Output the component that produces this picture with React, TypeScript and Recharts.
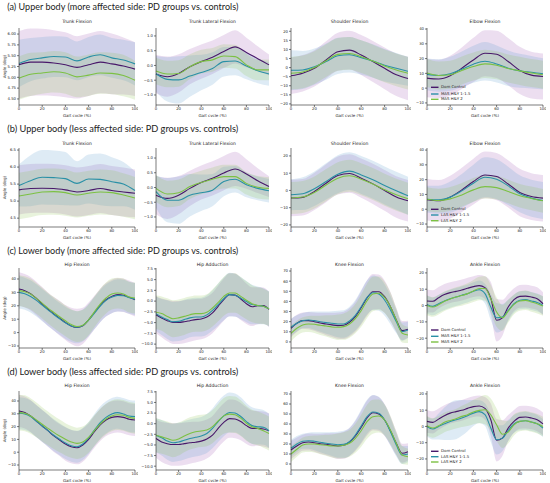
import React from 'react';
import { Area, ComposedChart, Line, XAxis, YAxis } from 'recharts';

// gait cycle samples
const X10 = [0, 10, 20, 30, 40, 50, 60, 70, 80, 90, 100];
const X5 = [0, 5, 10, 15, 20, 25, 30, 35, 40, 45, 50, 55, 60, 65, 70, 75, 80, 85, 90, 95, 100];
const X_TICKS = [0, 20, 40, 60, 80, 100];

const SERIES_KEYS = ['dom', 'hy1', 'hy2'];
const LINE_COLORS = ['#48186a', '#2a90a6', '#7cc143'];
const BAND_COLORS = ['#a05cb4', '#5a9dcb', '#8cc152'];
const LEGEND_MORE = ['Dom Control', 'MAS H&Y 1-1.5', 'MAS H&Y 2'];
const LEGEND_LESS = ['Dom Control', 'LAS H&Y 1-1.5', 'LAS H&Y 2'];
const SECTION_TITLES = [
  '(a) Upper body (more affected side: PD groups vs. controls)',
  '(b) Upper body (less affected side: PD groups vs. controls)',
  '(c) Lower body (more affected side: PD groups vs. controls)',
  '(d) Lower body (less affected side: PD groups vs. controls)'
];

// tick labels
const TICKS_TRUNK_A = [4.5, 4.75, 5, 5.25, 5.5, 5.75, 6];
const TICKS_TRUNK_B = [4.5, 5, 5.5, 6, 6.5];
const TICKS_LAT = [-1, -0.5, 0, 0.5, 1];
const TICKS_SHOULDER_A = [-20, -15, -10, -5, 0, 5, 10, 15, 20];
const TICKS_SHOULDER_B = [-20, -10, 0, 10, 20];
const TICKS_ELBOW = [-10, 0, 10, 20, 30, 40];
const TICKS_HIP = [-10, 0, 10, 20, 30, 40];
const TICKS_ADD = [-10, -7.5, -5, -2.5, 0, 2.5, 5, 7.5];
const TICKS_KNEE = [0, 10, 20, 30, 40, 50, 60, 70];
const TICKS_ANKLE = [-20, -10, 0, 10, 20];

// (a) upper body, more affected side
const A1_DOM = [5.29, 5.35, 5.35, 5.33, 5.29, 5.23, 5.29, 5.35, 5.31, 5.26, 5.19];
const A1_HY1 = [5.32, 5.41, 5.45, 5.48, 5.47, 5.38, 5.47, 5.52, 5.45, 5.4, 5.31];
const A1_HY2 = [4.98, 5.07, 5.1, 5.13, 5.1, 5.01, 5.05, 5.1, 5.09, 5.04, 4.93];
const A1_DOM_SD = [0.78, 0.78, 0.77, 0.76, 0.75, 0.72, 0.72, 0.72, 0.7, 0.66, 0.62];
const A1_HY1_SD = [0.55, 0.5, 0.48, 0.47, 0.47, 0.45, 0.46, 0.47, 0.46, 0.47, 0.5];
const A1_HY2_SD = [0.5, 0.5, 0.48, 0.48, 0.48, 0.47, 0.48, 0.48, 0.48, 0.48, 0.45];

const A2_DOM = [-0.29, -0.38, -0.27, -0.04, 0.13, 0.28, 0.47, 0.63, 0.44, 0.23, 0.02];
const A2_HY1 = [-0.28, -0.47, -0.49, -0.36, -0.24, -0.1, 0.13, 0.15, -0.02, -0.18, -0.29];
const A2_HY2 = [-0.19, -0.29, -0.27, -0.04, 0.13, 0.19, 0.32, 0.3, 0.02, -0.15, -0.15];
const A2_DOM_SD = [0.65, 0.68, 0.65, 0.6, 0.58, 0.57, 0.56, 0.56, 0.5, 0.42, 0.35];
const A2_HY1_SD = [0.6, 0.75, 0.8, 0.7, 0.6, 0.55, 0.5, 0.48, 0.45, 0.42, 0.4];
const A2_HY2_SD = [0.45, 0.45, 0.45, 0.42, 0.4, 0.4, 0.4, 0.4, 0.38, 0.35, 0.35];

const A3_DOM = [-4.5, -3.1, -0.4, 4.2, 8.7, 9.6, 6.9, 3.3, -0.4, -4.0, -6.0];
const A3_HY1 = [-1.5, -1.3, 0.5, 3.3, 6.5, 7.1, 5.5, 3.6, 1.3, -0.4, -2.0];
const A3_HY2 = [-3.1, -2.4, 0, 3.8, 7.3, 7.8, 6.0, 3.6, 0.9, -1.3, -3.1];
const A3_DOM_SD = [10, 10, 10, 10.3, 10.5, 10.7, 11, 11.3, 11.5, 11.7, 12];
const A3_HY1_SD = [11, 10.5, 10, 10, 10, 9.8, 9.5, 9.2, 9, 8.5, 8];
const A3_HY2_SD = [9, 9, 9, 9, 9, 9, 9, 9, 9, 9, 9];

const A4_DOM = [6.8, 6.2, 8.4, 13.5, 19.1, 23.6, 22.9, 18.0, 12.0, 8.8, 7.9];
const A4_HY1 = [9.3, 8.6, 9.7, 12.8, 16.2, 18.2, 16.4, 13.5, 11.7, 10.8, 9.7];
const A4_HY2 = [10.2, 8.6, 9.1, 12.0, 14.6, 16.4, 15.5, 13.3, 11.7, 10.2, 9.1];
const A4_DOM_SD = [13, 13, 13.5, 14, 15, 15.6, 16, 16, 16, 15.8, 15.6];
const A4_HY1_SD = [10.8, 11, 11.5, 12, 12.5, 13, 12.5, 12, 11.5, 11, 10.5];
const A4_HY2_SD = [9.5, 9.5, 9.5, 9.5, 9.5, 9.5, 9.5, 9.5, 9.5, 9.5, 9.5];

// (b) upper body, less affected side
const B1_DOM = [5.33, 5.37, 5.38, 5.37, 5.33, 5.27, 5.31, 5.37, 5.31, 5.27, 5.23];
const B1_HY1 = [5.46, 5.6, 5.7, 5.69, 5.66, 5.52, 5.65, 5.64, 5.57, 5.5, 5.31];
const B1_HY2 = [5.15, 5.21, 5.27, 5.28, 5.25, 5.18, 5.23, 5.27, 5.25, 5.18, 5.09];
const B1_DOM_SD = [0.72, 0.72, 0.72, 0.72, 0.72, 0.72, 0.72, 0.72, 0.72, 0.72, 0.7];
const B1_HY1_SD = [0.62, 0.75, 0.8, 0.8, 0.78, 0.65, 0.72, 0.76, 0.72, 0.65, 0.56];
const B1_HY2_SD = [0.68, 0.68, 0.68, 0.68, 0.68, 0.66, 0.66, 0.66, 0.66, 0.64, 0.62];

const B2_DOM = [-0.26, -0.37, -0.26, -0.03, 0.17, 0.31, 0.49, 0.63, 0.46, 0.23, 0.03];
const B2_HY1 = [-0.14, -0.43, -0.43, -0.26, -0.18, -0.09, 0.2, 0.28, 0.09, -0.03, -0.11];
const B2_HY2 = [-0.03, -0.22, -0.18, 0.03, 0.17, 0.28, 0.37, 0.37, 0.14, 0.01, -0.03];
const B2_DOM_SD = [0.65, 0.7, 0.65, 0.6, 0.58, 0.58, 0.58, 0.58, 0.5, 0.42, 0.35];
const B2_HY1_SD = [0.55, 0.75, 0.8, 0.72, 0.62, 0.55, 0.5, 0.45, 0.42, 0.4, 0.4];
const B2_HY2_SD = [0.45, 0.45, 0.45, 0.42, 0.4, 0.4, 0.4, 0.4, 0.38, 0.38, 0.38];

const B3_DOM = [-4.4, -4.0, -0.6, 4.2, 8.7, 9.8, 7.1, 3.8, 0, -3.8, -6.0];
const B3_HY1 = [-2.5, -1.9, 1.0, 5.2, 9.4, 11.2, 9.0, 6.2, 2.9, -0.2, -3.1];
const B3_HY2 = [-4.4, -3.8, -1.2, 3.1, 7.1, 8.5, 6.5, 3.7, 0.4, -2.5, -4.8];
const B3_DOM_SD = [10.6, 10.6, 10.8, 11, 11, 11.2, 11.4, 11.6, 11.8, 12, 12];
const B3_HY1_SD = [9, 9.5, 10, 10.5, 11, 11, 11, 11, 11, 11, 11];
const B3_HY2_SD = [9.3, 9.3, 9.3, 9.3, 9.3, 9.3, 9.3, 9.3, 9.3, 9.3, 9.3];

const B4_DOM = [6.4, 5.7, 8.2, 13.1, 18.7, 23.2, 22.1, 17.1, 11.3, 8.6, 7.5];
const B4_HY1 = [6.8, 6.4, 8.2, 12.4, 17.6, 21.6, 20.3, 15.8, 10.4, 7.5, 5.9];
const B4_HY2 = [6.8, 5.9, 7.0, 9.7, 13.1, 15.3, 14.6, 12.0, 9.1, 7.3, 5.7];
const B4_DOM_SD = [14, 14, 14.5, 15, 15.5, 15.8, 16, 16, 16, 15.8, 15.7];
const B4_HY1_SD = [9, 9.5, 10.5, 11.5, 12.5, 13.5, 13.5, 13, 12.5, 12.5, 12.5];
const B4_HY2_SD = [8, 8, 8, 8, 8, 8, 8, 8, 8, 8, 8];

// (c) lower body, more affected side
const C1_DOM = [32.5, 31.3, 29, 25.5, 21.5, 17.5, 14, 10.8, 7.5, 5, 3.8, 5, 9.5, 15, 20.3, 24.5, 27, 28.3, 27.8, 26.3, 24.5];
const C1_HY1 = [30, 29, 27, 24, 20.5, 17, 13.5, 10.3, 7.3, 5, 4, 5.3, 9.3, 14.5, 19.8, 24, 26.5, 27.8, 27.5, 26, 25];
const C1_HY2 = [31.3, 30.5, 28.8, 25.5, 22, 18.3, 15, 11.8, 8.8, 6, 4.5, 5.5, 9.5, 15.5, 21.3, 25.8, 28.8, 29.5, 28.8, 26.5, 25.8];
const C1_DOM_SD = [12.5, 12.5, 12.5, 12.5, 12.5, 12.5, 12.5, 13, 13, 13.5, 14, 13.5, 13, 12.5, 12.5, 12.5, 12.5, 12.5, 12.5, 12.5, 12.5];
const C1_HY1_SD = [12, 12, 12, 12, 12, 12, 12, 12, 12, 12, 12, 12, 12, 12, 12, 12, 12, 12, 12, 12, 12];
const C1_HY2_SD = [11.5, 11.5, 11.5, 11.5, 11.5, 11.5, 11.5, 11.5, 11.5, 11.5, 11.5, 11.5, 11.5, 11.5, 11.5, 11.5, 11.5, 11.5, 11.5, 11.5, 11.5];

const C2_DOM = [-3.15, -3.9, -4.55, -4.95, -4.95, -4.8, -4.55, -4.3, -4.15, -3.7, -2.75, -1.2, 0.35, 1.5, 1.4, 0.5, -0.6, -1.3, -1.05, -1.05, -1.9];
const C2_HY1 = [-2.9, -3.7, -4.3, -4.8, -4.7, -4.3, -3.9, -3.7, -3.7, -3.2, -2.15, -0.8, 0.55, 1.5, 1.35, 0.7, -0.1, -0.8, -1.0, -1.2, -1.8];
const C2_HY2 = [-2.6, -2.9, -3.55, -4.1, -3.9, -3.55, -3.15, -2.9, -2.9, -2.6, -1.6, -0.3, 1.1, 1.9, 1.9, 1.1, 0.2, -0.6, -1.0, -1.2, -1.8];
const C2_DOM_SD = [4.3, 4.5, 4.8, 5, 5, 5, 4.9, 4.8, 4.7, 4.7, 4.7, 4.8, 4.9, 5, 5, 4.9, 4.7, 4.5, 4.3, 4.2, 4.1];
const C2_HY1_SD = [4, 4.2, 4.5, 4.6, 4.6, 4.6, 4.5, 4.5, 4.5, 4.6, 4.7, 4.9, 5, 5.1, 5, 4.9, 4.8, 4.6, 4.4, 4.2, 4.1];
const C2_HY2_SD = [3.9, 4, 4.2, 4.3, 4.3, 4.3, 4.2, 4.2, 4.2, 4.2, 4.3, 4.4, 4.5, 4.6, 4.6, 4.5, 4.4, 4.3, 4.2, 4.1, 4];

const C3_DOM = [13.5, 18.4, 21, 21, 20, 18.7, 17.7, 16.8, 16.1, 16.4, 19.4, 25, 33.8, 43.4, 49.6, 49.6, 44.7, 34.8, 21.7, 11.2, 12.5];
const C3_HY1 = [14.5, 18.4, 21, 21.7, 21, 20, 19.1, 18.4, 17.7, 17.7, 20.7, 26.3, 34.8, 44, 48.6, 47.3, 41.4, 31.5, 20, 10.2, 11.8];
const C3_HY2 = [8.5, 13.5, 16.8, 17.7, 17.4, 16.4, 15.8, 14.8, 14.5, 15.1, 17.7, 23, 30.9, 40.7, 47.3, 48, 44, 34.8, 21.7, 8.5, 6.9];
const C3_DOM_SD = [9, 8.5, 8, 8.5, 9, 10, 11, 12, 13, 13.5, 14, 15, 16.5, 17.5, 17.5, 17, 16, 14.5, 12, 9.5, 8.5];
const C3_HY1_SD = [8.5, 8, 7.5, 8, 9, 10, 11, 12, 13, 13.5, 14, 15, 16.5, 17, 17, 16.5, 15.5, 14, 11.5, 9, 8];
const C3_HY2_SD = [8, 7.5, 7.5, 8, 8.5, 9.5, 10.5, 11.5, 12.5, 13, 13.5, 14.5, 16, 17, 17, 16.5, 15.5, 14, 11.5, 9, 8];

const C4_DOM = [2.8, 2.6, 4.8, 6.7, 7.9, 8.7, 9.5, 10.6, 11.6, 12.2, 11.0, 4.5, -9.0, -7.5, -0.9, 3.6, 5.6, 5.8, 5.2, 4.2, 1.1];
const C4_HY1 = [0.7, -0.5, 1.1, 2.8, 4.2, 5.2, 6.3, 7.3, 8.7, 9.7, 7.3, -0.9, -7.5, -7.1, -3.0, 1.1, 3.2, 3.6, 2.8, 1.9, 0.1];
const C4_HY2 = [0.1, -0.9, 0.5, 2.6, 4.0, 5.2, 6.1, 7.3, 8.9, 10.4, 10.4, 4.2, -4.0, -7.5, -3.4, 0.7, 2.8, 3.2, 2.2, 1.1, -0.3];
const C4_DOM_SD = [7, 6.8, 6.6, 6.5, 6.4, 6.4, 6.4, 6.4, 6.4, 6.5, 7, 10, 13, 11, 8, 7, 7, 7, 7, 7, 7];
const C4_HY1_SD = [5.5, 5.5, 5.5, 5.5, 5.5, 5.5, 5.5, 5.5, 5.5, 5.7, 6, 8, 9, 8, 6.5, 5.5, 5.5, 5.5, 5.5, 5.5, 5.5];
const C4_HY2_SD = [6, 6, 6, 6, 6, 6, 6.2, 6.4, 6.8, 7.2, 7.5, 8.5, 9, 8, 7, 6, 6, 6, 6, 6, 6];

// (d) lower body, less affected side
const D1_DOM = [32.2, 31.1, 28.3, 24.4, 20.5, 16.8, 12.7, 9.5, 6.4, 4.3, 3.5, 5.6, 10, 16, 21.3, 25.2, 27.2, 27.8, 27.2, 25.7, 25.2];
const D1_HY1 = [30.4, 29.8, 27.8, 24.1, 20.5, 16.8, 13.2, 10.1, 7.2, 5.1, 4.3, 6.4, 11.1, 17.3, 23.1, 27.2, 29.8, 30.9, 29.8, 28.3, 27.8];
const D1_HY2 = [30.9, 30.4, 28.3, 25.2, 21.8, 18.6, 15.5, 12.7, 10.1, 8, 6.9, 8, 11.6, 16.8, 22, 25.9, 28.3, 29.3, 28.8, 27.2, 26.4];
const D1_DOM_SD = [12.5, 12.5, 12.5, 12.5, 12.5, 12.5, 12.5, 12.5, 13, 13, 13, 13, 12.5, 12.5, 12.5, 12.5, 12.5, 12.5, 12.5, 12.5, 12.5];
const D1_HY1_SD = [12.5, 12.5, 12.5, 12.5, 12.5, 12.5, 12.5, 12.5, 12.5, 12.5, 12.5, 12.5, 12.5, 12.5, 12.5, 12.5, 12.5, 12.5, 12.5, 12.5, 12.5];
const D1_HY2_SD = [14, 14, 13.8, 13.6, 13.4, 13.2, 13, 12.8, 12.6, 12.4, 12.2, 12, 12, 12, 12, 12, 12, 12, 12, 12, 12];

const D2_DOM = [-3.5, -4.3, -4.7, -4.9, -4.9, -4.7, -4.5, -4.35, -4.1, -3.6, -2.7, -1.1, 0.3, 1.2, 1.1, 0.5, -0.45, -1.1, -1.1, -1.25, -1.65];
const D2_HY1 = [-2.7, -3.3, -4.1, -4.5, -4.3, -3.9, -3.5, -3.2, -2.9, -2.3, -1.1, 0.5, 1.85, 2.65, 2.5, 1.7, 0.5, -0.45, -0.7, -0.85, -1.65];
const D2_HY2 = [-2.7, -3.1, -3.5, -3.9, -3.6, -2.9, -2.3, -1.9, -1.7, -1.5, -0.7, 0.65, 1.85, 2.25, 2.1, 1.3, 0.1, -0.7, -1.1, -1.65, -2.3];
const D2_DOM_SD = [4.5, 4.7, 4.9, 5, 5, 5, 4.9, 4.8, 4.7, 4.6, 4.5, 4.5, 4.5, 4.5, 4.5, 4.4, 4.3, 4.2, 4.1, 4.1, 4.1];
const D2_HY1_SD = [4, 4.2, 4.4, 4.5, 4.5, 4.5, 4.5, 4.5, 4.5, 4.6, 4.7, 4.8, 4.8, 4.7, 4.6, 4.5, 4.4, 4.3, 4.2, 4.1, 4];
const D2_HY2_SD = [4, 4, 4, 4, 3.9, 3.8, 3.8, 3.8, 3.8, 3.8, 3.9, 4, 4.2, 4.3, 4.3, 4.2, 4.1, 4, 4, 4, 4];

const D3_DOM = [14, 18, 21.3, 22, 21.3, 20.3, 19.7, 18.7, 18, 18.7, 22, 28, 36.7, 46, 51.3, 50, 44, 33.3, 20.7, 10.7, 12.3];
const D3_HY1 = [15.7, 20, 22.7, 23.3, 22.7, 21.7, 20.7, 20, 19.3, 19.7, 22.3, 29, 38, 47.3, 52, 50.7, 44, 32.3, 19, 9, 10];
const D3_HY2 = [10, 14.7, 19, 20, 20, 19.3, 18.7, 18, 18, 18.7, 20.7, 25.7, 33.3, 42.3, 47.3, 48, 44, 34, 20.7, 9, 7.3];
const D3_DOM_SD = [9, 8.5, 8, 8.5, 9, 10, 11, 12, 13, 13.5, 14, 15, 16.5, 17.5, 17.5, 17, 16, 14.5, 12, 9.5, 8.5];
const D3_HY1_SD = [8.5, 8, 7.5, 8, 9, 10, 11, 12, 13, 13.5, 14, 15, 16.5, 17, 17, 16.5, 15.5, 14, 11.5, 9, 8];
const D3_HY2_SD = [8, 7.5, 7.5, 8, 8.5, 9.5, 10.5, 11.5, 12.5, 13, 13.5, 14.5, 16, 17, 17, 16.5, 15.5, 14, 11.5, 9, 8];

const D4_DOM = [3.1, 2.5, 4.5, 6.6, 8.2, 9.1, 9.9, 11.1, 12.2, 12.6, 11.1, 4.1, -8.5, -7.2, -1.0, 3.1, 5.6, 5.8, 5.2, 4.1, 1.6];
const D4_HY1 = [0, -1.6, 0, 1.6, 3.1, 4.1, 5.2, 6.6, 8.2, 9.1, 7.2, -1.0, -8.2, -7.2, -2.5, 1.6, 3.1, 3.5, 2.7, 1.6, -1.0];
const D4_HY2 = [0.4, -1.0, 0.4, 2.5, 3.7, 4.7, 6.2, 7.2, 8.9, 9.9, 10.3, 7.2, 1.0, -4.8, -3.5, 1.0, 3.1, 3.5, 2.7, 1.6, 0];
const D4_DOM_SD = [7, 6.8, 6.6, 6.5, 6.4, 6.4, 6.4, 6.4, 6.4, 6.5, 7, 10, 13, 11, 8, 7, 7, 7, 7, 7, 7];
const D4_HY1_SD = [6, 6.5, 8, 10, 11.5, 12, 11, 9.5, 8, 7, 7, 8.5, 9, 8, 6.5, 5.5, 5.5, 5.5, 5.5, 5.5, 5.5];
const D4_HY2_SD = [6, 6, 6, 6, 6, 6, 6.5, 7, 7.5, 8, 9, 10, 10, 8.5, 7, 6.5, 6, 6, 6, 6, 6];

// layout of the 4x4 grid (plot areas in page pixels)
const COLS = [[19, 135], [156, 269], [291, 408], [427, 543]];
const ROWS = [
  { y0: 28, y1: 105, title: 22, section: 7.5 },
  { y0: 148, y1: 227, title: 144, section: 130 },
  { y0: 268, y1: 348, title: 265, section: 251.5 },
  { y0: 391, y1: 470, title: 386, section: 372.5 }
];
const LEGEND_Y = [[87.3, 94, 99.3], [209.3, 215, 220.7], [330, 336.3, 342], [451.3, 456.7, 462]];

const PANELS = [
  { row: 0, col: 0, title: 'Trunk Flexion', x: X10, mean: [A1_DOM, A1_HY1, A1_HY2], sd: [A1_DOM_SD, A1_HY1_SD, A1_HY2_SD], domain: [4.36, 6.14], ticks: TICKS_TRUNK_A, digits: 2 },
  { row: 0, col: 1, title: 'Trunk Lateral Flexion', x: X10, mean: [A2_DOM, A2_HY1, A2_HY2], sd: [A2_DOM_SD, A2_HY1_SD, A2_HY2_SD], domain: [-1.34, 1.27], ticks: TICKS_LAT, digits: 1 },
  { row: 0, col: 2, title: 'Shoulder Flexion', x: X10, mean: [A3_DOM, A3_HY1, A3_HY2], sd: [A3_DOM_SD, A3_HY1_SD, A3_HY2_SD], domain: [-20.6, 21.8], ticks: TICKS_SHOULDER_A, digits: 0 },
  { row: 0, col: 3, title: 'Elbow Flexion', x: X10, mean: [A4_DOM, A4_HY1, A4_HY2], sd: [A4_DOM_SD, A4_HY1_SD, A4_HY2_SD], domain: [-11.4, 40.7], ticks: TICKS_ELBOW, digits: 0 },
  { row: 1, col: 0, title: 'Trunk Flexion', x: X10, mean: [B1_DOM, B1_HY1, B1_HY2], sd: [B1_DOM_SD, B1_HY1_SD, B1_HY2_SD], domain: [4.24, 6.56], ticks: TICKS_TRUNK_B, digits: 1 },
  { row: 1, col: 1, title: 'Trunk Lateral Flexion', x: X10, mean: [B2_DOM, B2_HY1, B2_HY2], sd: [B2_DOM_SD, B2_HY1_SD, B2_HY2_SD], domain: [-1.34, 1.34], ticks: TICKS_LAT, digits: 1 },
  { row: 1, col: 2, title: 'Shoulder Flexion', x: X10, mean: [B3_DOM, B3_HY1, B3_HY2], sd: [B3_DOM_SD, B3_HY1_SD, B3_HY2_SD], domain: [-21.2, 24.6], ticks: TICKS_SHOULDER_B, digits: 0 },
  { row: 1, col: 3, title: 'Elbow Flexion', x: X10, mean: [B4_DOM, B4_HY1, B4_HY2], sd: [B4_DOM_SD, B4_HY1_SD, B4_HY2_SD], domain: [-12, 41.4], ticks: TICKS_ELBOW, digits: 0 },
  { row: 2, col: 0, title: 'Hip Flexion', x: X5, mean: [C1_DOM, C1_HY1, C1_HY2], sd: [C1_DOM_SD, C1_HY1_SD, C1_HY2_SD], domain: [-11.5, 48.2], ticks: TICKS_HIP, digits: 0 },
  { row: 2, col: 1, title: 'Hip Adduction', x: X5, mean: [C2_DOM, C2_HY1, C2_HY2], sd: [C2_DOM_SD, C2_HY1_SD, C2_HY2_SD], domain: [-10.9, 7.7], ticks: TICKS_ADD, digits: 1 },
  { row: 2, col: 2, title: 'Knee Flexion', x: X5, mean: [C3_DOM, C3_HY1, C3_HY2], sd: [C3_DOM_SD, C3_HY1_SD, C3_HY2_SD], domain: [-6, 73], ticks: TICKS_KNEE, digits: 0 },
  { row: 2, col: 3, title: 'Ankle Flexion', x: X5, mean: [C4_DOM, C4_HY1, C4_HY2], sd: [C4_DOM_SD, C4_HY1_SD, C4_HY2_SD], domain: [-26, 23], ticks: TICKS_ANKLE, digits: 0 },
  { row: 3, col: 0, title: 'Hip Flexion', x: X5, mean: [D1_DOM, D1_HY1, D1_HY2], sd: [D1_DOM_SD, D1_HY1_SD, D1_HY2_SD], domain: [-13.9, 47.8], ticks: TICKS_HIP, digits: 0 },
  { row: 3, col: 1, title: 'Hip Adduction', x: X5, mean: [D2_DOM, D2_HY1, D2_HY2], sd: [D2_DOM_SD, D2_HY1_SD, D2_HY2_SD], domain: [-10.9, 7.7], ticks: TICKS_ADD, digits: 1 },
  { row: 3, col: 2, title: 'Knee Flexion', x: X5, mean: [D3_DOM, D3_HY1, D3_HY2], sd: [D3_DOM_SD, D3_HY1_SD, D3_HY2_SD], domain: [-6, 73], ticks: TICKS_KNEE, digits: 0 },
  { row: 3, col: 3, title: 'Ankle Flexion', x: X5, mean: [D4_DOM, D4_HY1, D4_HY2], sd: [D4_DOM_SD, D4_HY1_SD, D4_HY2_SD], domain: [-26.8, 21.8], ticks: TICKS_ANKLE, digits: 0 }
];

const FONT = '"DejaVu Sans", sans-serif';
const YW = 20;
const MT = 2;
const RM = 3;
const XH = 12;

const fmt = (digits: number) => (v: number) => v.toFixed(digits).replace('-', '\u2212');

const Panel = ({ p }: { p: any }) => {
  const [x0, x1] = COLS[p.col];
  const row = ROWS[p.row];
  const w = x1 - x0;
  const h = row.y1 - row.y0;
  const data = p.x.map((xv: number, i: number) => {
    const r: any = { x: xv };
    SERIES_KEYS.forEach((k, j) => {
      const m = p.mean[j][i];
      const s = p.sd[j][i];
      r[k] = m;
      r[k + 'Band'] = [m - s, m + s];
    });
    return r;
  });
  const tickStyle = { fontSize: 3.8, fill: '#222', fontFamily: FONT };
  return (
    <div style={{ position: 'absolute', left: x0 - YW, top: row.y0 - MT }}>
      <ComposedChart
        width={YW + w + RM}
        height={MT + h + XH}
        data={data}
        margin={{ top: MT, right: RM, bottom: 0, left: 0 }}
      >
        <XAxis
          dataKey="x"
          type="number"
          domain={[0, 100]}
          ticks={X_TICKS}
          height={XH}
          tick={tickStyle}
          tickSize={2}
          tickMargin={0}
          stroke="#222"
          strokeWidth={0.6}
          label={{ value: 'Gait cycle (%)', position: 'insideBottom', offset: 0, fontSize: 4, fill: '#222', fontFamily: FONT }}
        />
        <YAxis
          type="number"
          domain={p.domain}
          ticks={p.ticks}
          allowDataOverflow
          width={YW}
          tick={tickStyle}
          tickSize={2}
          tickMargin={1}
          stroke="#222"
          strokeWidth={0.6}
          tickFormatter={fmt(p.digits)}
        />
        {SERIES_KEYS.map((k, j) => (
          <Area
            key={k + 'Band'}
            dataKey={k + 'Band'}
            type="monotone"
            stroke="none"
            fill={BAND_COLORS[j]}
            fillOpacity={0.2}
            isAnimationActive={false}
          />
        ))}
        {SERIES_KEYS.map((k, j) => (
          <Line
            key={k}
            dataKey={k}
            type="monotone"
            stroke={LINE_COLORS[j]}
            strokeWidth={1.1}
            dot={false}
            isAnimationActive={false}
          />
        ))}
      </ComposedChart>
    </div>
  );
};

const Overlay = () => (
  <svg width={550} height={483} style={{ position: 'absolute', left: 0, top: 0, pointerEvents: 'none' }}>
    {ROWS.map((r, i) => (
      <text
        key={'s' + i}
        x={7.3}
        y={r.section}
        dominantBaseline="middle"
        fontFamily='Lato, "Open Sans", sans-serif'
        fontSize={8.6}
        fill="#222"
        textLength={231}
        lengthAdjust="spacingAndGlyphs"
      >
        {SECTION_TITLES[i]}
      </text>
    ))}
    {PANELS.map((p, i) => (
      <text
        key={'t' + i}
        x={(COLS[p.col][0] + COLS[p.col][1]) / 2}
        y={ROWS[p.row].title}
        textAnchor="middle"
        dominantBaseline="middle"
        fontFamily={FONT}
        fontSize={4.5}
        fill="#222"
      >
        {p.title}
      </text>
    ))}
    {ROWS.map((r, i) => (
      <text
        key={'y' + i}
        transform={`translate(4.5 ${(r.y0 + r.y1) / 2}) rotate(-90)`}
        textAnchor="middle"
        dominantBaseline="middle"
        fontFamily={FONT}
        fontSize={4}
        fill="#222"
      >
        Angle (deg)
      </text>
    ))}
    {LEGEND_Y.map((ys, i) =>
      ys.map((y, j) => (
        <g key={'l' + i + j}>
          <line x1={431} x2={438.5} y1={y} y2={y} stroke={LINE_COLORS[j]} strokeWidth={1.4} />
          <text x={441} y={y} dominantBaseline="middle" fontFamily={FONT} fontSize={3.9} fill="#222">
            {(i % 2 === 0 ? LEGEND_MORE : LEGEND_LESS)[j]}
          </text>
        </g>
      ))
    )}
  </svg>
);

export default function App() {
  return (
    <div style={{ position: 'absolute', left: 0, top: 0, width: 550, height: 483, background: '#fff', fontFamily: FONT }}>
      {PANELS.map((p, i) => (
        <Panel key={i} p={p} />
      ))}
      <Overlay />
    </div>
  );
}
